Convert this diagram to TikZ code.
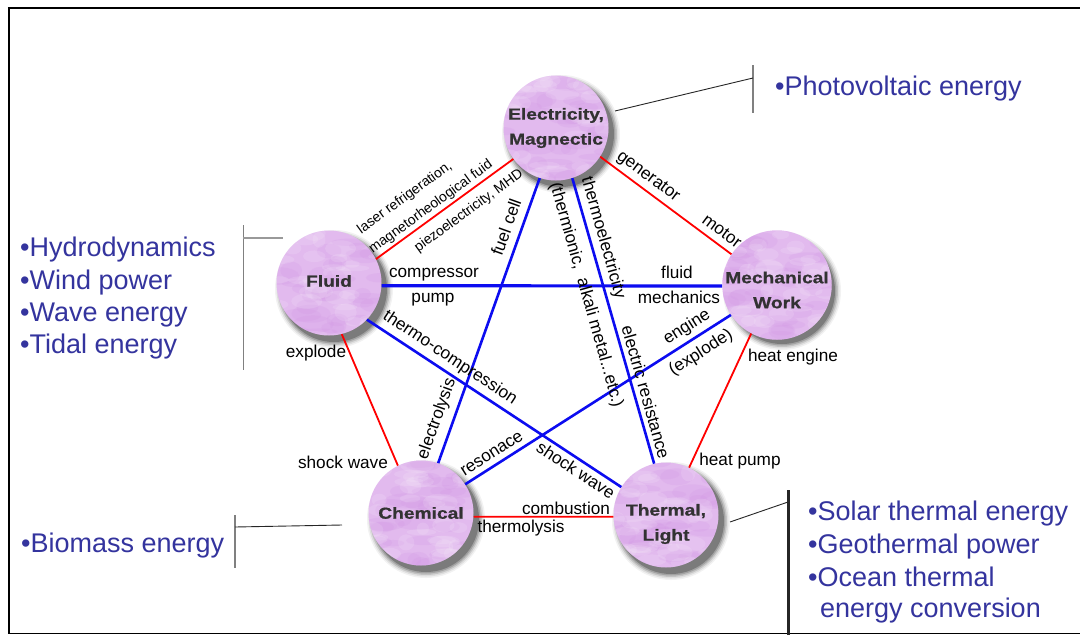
\documentclass[tikz,border=0pt]{standalone}
\usepackage{fontspec}
\setmainfont{Liberation Sans}
\newfontfamily\nodefont[FakeStretch=1.2,FakeBold=0.8]{Liberation Sans Bold}
\usetikzlibrary{calc,backgrounds}
\definecolor{lav}{RGB}{226,186,238}
\definecolor{lavdark}{RGB}{208,146,228}
\definecolor{nodetext}{RGB}{50,50,50}
\definecolor{listblue}{RGB}{52,52,158}
\definecolor{redline}{RGB}{255,0,0}
\definecolor{blueline}{RGB}{12,12,240}
\begin{document}
\pgfmathsetseed{11}
\begin{tikzpicture}[x=1pt,y=-1pt,
  energy/.style={circle, minimum size=105pt, inner sep=0pt, fill=lav, text=nodetext,
    align=center, font=\nodefont\fontsize{16}{25}\selectfont,
    path picture={
      \foreach \k in {1,...,40}{
        \pgfmathsetmacro{\blobx}{rand*54}
        \pgfmathsetmacro{\bloby}{rand*54}
        \pgfmathsetmacro{\blobra}{8+rnd*14}
        \pgfmathsetmacro{\blobrb}{3+rnd*6}
        \fill[lavdark,opacity=0.18] ([shift={(\blobx pt,\bloby pt)}]path picture bounding box.center) ellipse (\blobra pt and \blobrb pt);
      }
      \foreach \k in {1,...,35}{
        \pgfmathsetmacro{\blobx}{rand*54}
        \pgfmathsetmacro{\bloby}{rand*54}
        \pgfmathsetmacro{\blobra}{6+rnd*12}
        \pgfmathsetmacro{\blobrb}{3+rnd*6}
        \fill[white,opacity=0.12] ([shift={(\blobx pt,\bloby pt)}]path picture bounding box.center) ellipse (\blobra pt and \blobrb pt);
      }
    }},
  redcon/.style={draw=redline, line width=1.8pt},
  bluecon/.style={draw=blueline, line width=2.6pt},
  lbl/.style={font=\fontsize{17.2}{19}\selectfont, inner sep=0pt},
  slbl/.style={font=\fontsize{14}{15}\selectfont, inner sep=0pt},
  bulletitem/.style={font=\fontsize{27}{30}\selectfont, text=listblue, anchor=base west, inner sep=0pt},
  leader/.style={black!85, line width=0.9pt},
  bracketbar/.style={gray, line width=1.4pt}]

\useasboundingbox (0,0) rectangle (1080,635);

% frame
\draw[line width=2.6pt] (7.9,8) -- (1082,8);
\draw[line width=2.2pt] (9,8) -- (9,634);
\draw[line width=1.2pt] (9,633.6) -- (1082,633.6);

% energy forms
\node[energy] (E) at (556,128) {Electricity,\\Magnectic};
\node[energy] (F) at (329,283) {\raisebox{2pt}[\height][\depth]{Fluid}};
\node[energy] (M) at (777,285) {\raisebox{-5pt}[\height][\depth]{Mechanical}\\\raisebox{-5pt}[\height][\depth]{Work}};
\node[energy] (C) at (421,513) {Chemical};
\node[energy] (T) at (666,515) {\raisebox{-9pt}[\height][\depth]{Thermal,}\\\raisebox{-9pt}[\height][\depth]{Light}};

% red connectors (outer pentagon)
\draw[redcon] (F.27.5) -- (E.216);
\draw[redcon] (E.327) -- (M.146);
\draw[redcon] (M.242) -- (T.64);
\draw[redcon] (C.356) -- (T.182);
\draw[redcon] (F.284.6) -- (C.116);

% blue connectors (inner star)
\draw[bluecon, line width=3.2pt] (F.357) -- (M.181);
\draw[bluecon] (E.252) -- (C.71.6);
\draw[bluecon] (E.288.8) -- (T.103.8);
\draw[bluecon] (F.316.5) -- (T.148.7);
\draw[bluecon] (M.213.7) -- (C.33);

% labels: fluid - electricity
\node[slbl, rotate=36] (l1) at (405,198) {laser refrigeration,};
\node[slbl, rotate=36] (l2) at (431,207) {magnetorheological fuid};
\node[slbl, rotate=36] (l3) at (469,211) {piezoelectricity, MHD};
% electricity - mechanical
\node[lbl, rotate=-36.5] (l4) at (648,177) {generator};
\node[lbl, rotate=-36.5] (l5) at (722,231) {motor};
% mechanical - thermal
\node[lbl] (l6) at (793,357) {heat engine};
\node[lbl] (l7) at (740,461) {heat pump};
% thermal - chemical
\node[lbl] (l8) at (566,508) {combustion};
\node[lbl] (l9) at (521,528) {thermolysis};
% chemical - fluid
\node[lbl] (l10) at (316,353) {explode};
\node[lbl] (l11) at (343,462) {shock wave};
% fluid - mechanical
\node[lbl] (l12) at (434,275) {compressor};
\node[lbl] (l13) at (433,300) {pump};
\node[lbl] (l14) at (677,272) {fluid};
\node[lbl] (l15) at (679,297) {mechanics};
% electricity - chemical
\node[lbl, rotate=70.3] (l16) at (506,227) {fuel cell};
\node[lbl, rotate=70.3] (l17) at (437,419) {electrolysis};
% electricity - thermal
\node[lbl, rotate=-74.2] (l18) at (603,238) {thermoelectricity};
\node[lbl, rotate=-74.2] (l19) at (586,295) {(thermionic,\ \ alkali metal...etc.)};
\node[lbl, rotate=-74.2] (l20) at (646,392) {electric resistance};
% fluid - thermal
\node[lbl, rotate=-33.5] (l21) at (450,358) {thermo-compression};
\node[lbl, rotate=-33.5] (l22) at (576,470) {shock wave};
% mechanical - chemical
\node[lbl, rotate=32.4] (l23) at (687,327) {engine};
\node[lbl, rotate=32.4] (l24) at (701,353) {(explode)};
\node[lbl, rotate=32.4] (l25) at (492,454) {resonace};

% bracket: photovoltaic
\coordinate (pvTop) at (753,65);
\coordinate (pvBot) at (753,113);
\coordinate (pvJ) at (753,78);
\coordinate (pvS) at (615,111);
\draw[bracketbar] (pvTop) -- (pvBot);
\draw[leader] (pvS) -- (pvJ);
\node[bulletitem] (pv) at (775,95) {•Photovoltaic energy};

% bracket: fluid
\coordinate (flTop) at (243,225);
\coordinate (flBot) at (243,370);
\coordinate (flJ) at (243,238);
\coordinate (flS) at (283,238);
\draw[gray, line width=1pt] (flTop) -- (flBot);
\draw[gray!80, line width=1.2pt] (flJ) -- (flS);
\node[bulletitem] (b1) at (20,256) {•Hydrodynamics};
\node[bulletitem] (b2) at (20,289) {•Wind power};
\node[bulletitem] (b3) at (20,321) {•Wave energy};
\node[bulletitem] (b4) at (20,353) {•Tidal energy};

% bracket: biomass
\coordinate (bmTop) at (235,515);
\coordinate (bmBot) at (235,568);
\coordinate (bmJ) at (235,527);
\coordinate (bmS) at (342,525);
\draw[bracketbar] (bmTop) -- (bmBot);
\draw[leader] (bmJ) -- (bmS);
\node[bulletitem] (bm) at (21,552) {•Biomass energy};

% bracket: thermal
\coordinate (thTop) at (788,490);
\coordinate (thBot) at (788,636);
\coordinate (thJ) at (788,502);
\coordinate (thS) at (730,522);
\draw[black!85, line width=3pt] (thTop) -- (thBot);
\draw[leader] (thS) -- (thJ);
\node[bulletitem] (t1) at (808,520) {•Solar thermal energy};
\node[bulletitem] (t2) at (808,553) {•Geothermal power};
\node[bulletitem] (t3) at (808,586) {•Ocean thermal};
\node[bulletitem] (t4) at (820,617) {energy conversion};

% background and shadows
\begin{scope}[on background layer]
  \fill[white] (0,0) rectangle (1080,635);
  \foreach \n in {E,F,M,C,T}{
    \foreach \r/\o in {59/0.05,57.5/0.08,56/0.12,54.5/0.17,53/0.24}{
      \fill[black, opacity=\o] ([shift={(5,6)}]\n.center) circle (\r pt);
    }
  }
\end{scope}
\end{tikzpicture}
\end{document}
